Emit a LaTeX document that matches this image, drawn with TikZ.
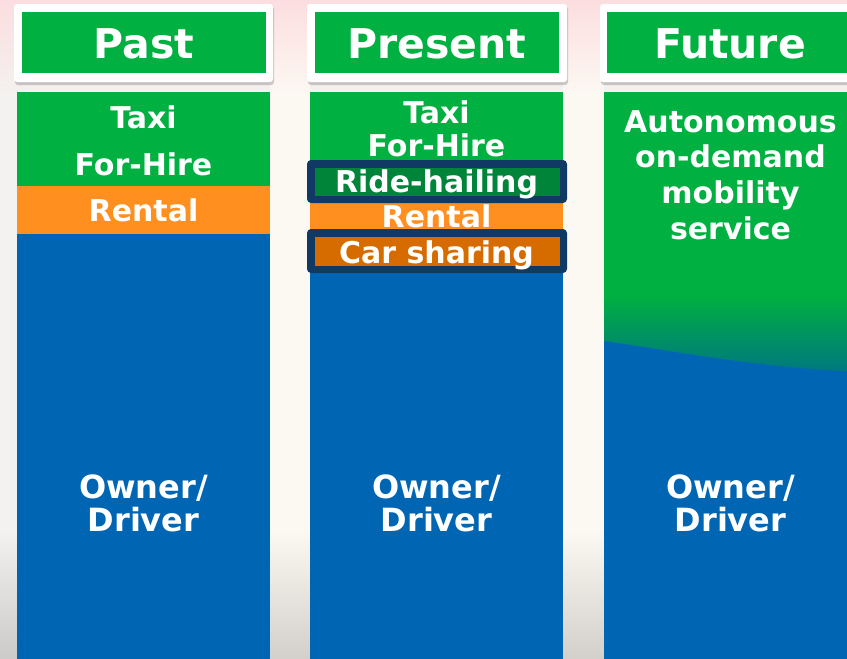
\documentclass[tikz,border=0pt]{standalone}
\usepackage{fontspec}
\setmainfont{DejaVu Sans}
\usetikzlibrary{fadings}
\definecolor{grn}{RGB}{0,176,64}
\definecolor{dgrn}{RGB}{0,132,58}
\definecolor{org}{RGB}{255,143,30}
\definecolor{dorg}{RGB}{214,108,0}
\definecolor{blu}{RGB}{0,102,179}
\definecolor{navy}{RGB}{16,58,100}
\definecolor{teal}{RGB}{0,118,130}
\definecolor{bg}{RGB}{244,242,240}
\definecolor{pinkbg}{RGB}{252,222,224}
\definecolor{cream}{RGB}{252,249,243}
\begin{document}
\begin{tikzpicture}[x=1pt,y=-1pt,
  hdrtxt/.style={anchor=base,inner sep=0pt,text=white,font=\bfseries\fontsize{41}{41}\selectfont},
  coltxt/.style={anchor=base,inner sep=0pt,text=white,font=\bfseries\fontsize{30}{30}\selectfont},
  ownertxt/.style={anchor=base,inner sep=0pt,text=white,font=\bfseries\fontsize{32}{32}\selectfont},
  frame/.style={fill=white,rounded corners=3pt},
  shadowbox/.style={fill=black,opacity=0.18,rounded corners=3pt},
  hl/.style={fill=navy,rounded corners=4pt}]
\useasboundingbox (0,0) rectangle (847,659);
% background
\fill[bg] (0,0) rectangle (847,659);
\fill[cream] (270,0) rectangle (310,659);
\fill[cream] (563,0) rectangle (604,659);
\fill[pinkbg,path fading=south] (0,0) rectangle (847,95);
\fill[black,opacity=0.16,path fading=north] (0,530) rectangle (847,659);
% header frames
\foreach \xa/\xb in {14/273,307/567,600/860}{
  \fill[shadowbox] (\xa+1,6) rectangle (\xb+1,85);
  \fill[frame] (\xa,4) rectangle (\xb,82);
}
\fill[grn] (22,12) rectangle (266,73);
\fill[grn] (315,12) rectangle (559,73);
\fill[grn] (607,12) rectangle (860,73);
\node[hdrtxt] (hpast) at (144,58) {Past};
\node[hdrtxt] (hpres) at (437,58) {Present};
\node[hdrtxt] (hfut) at (730,58) {Future};
% Past column
\fill[grn] (17,92) rectangle (270,186);
\fill[org] (17,186) rectangle (270,234);
\fill[blu] (17,234) rectangle (270,659);
\node[coltxt] (ptaxi) at (143.5,128) {Taxi};
\node[coltxt] (phire) at (143.5,175) {For-Hire};
\node[coltxt] (prent) at (143.5,221) {Rental};
\node[ownertxt] (pown) at (143.5,498) {Owner/};
\node[ownertxt] (pdrv) at (143.5,531) {Driver};
% Present column
\fill[grn] (310,92) rectangle (563,182);
\fill[org] (310,182) rectangle (563,251);
\fill[blu] (310,251) rectangle (563,659);
\fill[hl] (307,160) rectangle (567,203);
\fill[dgrn] (315,168) rectangle (560,196);
\fill[hl] (307,229) rectangle (567,273);
\fill[dorg] (315,237) rectangle (560,266);
\node[coltxt] (ntaxi) at (436.5,123) {Taxi};
\node[coltxt] (nhire) at (436.5,156) {For-Hire};
\node[coltxt] (nride) at (436.5,192) {Ride-hailing};
\node[coltxt] (nrent) at (436.5,227) {Rental};
\node[coltxt] (ncar) at (436.5,263) {Car sharing};
\node[ownertxt] (nown) at (436.5,498) {Owner/};
\node[ownertxt] (ndrv) at (436.5,531) {Driver};
% Future column
\fill[grn] (604,92) rectangle (860,296);
\shade[top color=grn,bottom color=teal] (604,295) rectangle (860,375);
\fill[blu] (604,341) .. controls (680,352) and (760,368) .. (860,372) -- (860,659) -- (604,659) -- cycle;
\node[coltxt] (fa) at (730.5,132) {Autonomous};
\node[coltxt] (fb) at (730.5,167) {on-demand};
\node[coltxt] (fc) at (730.5,203) {mobility};
\node[coltxt] (fd) at (730.5,239) {service};
\node[ownertxt] (fown) at (730.5,498) {Owner/};
\node[ownertxt] (fdrv) at (730.5,531) {Driver};
\end{tikzpicture}
\end{document}
